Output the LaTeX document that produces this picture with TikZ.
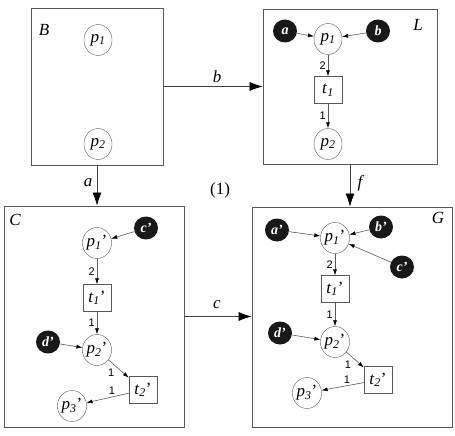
\documentclass[tikz,border=0pt]{standalone}
\usepackage{fontspec}
\setmainfont{Liberation Serif}
\setsansfont{Liberation Sans}
\usetikzlibrary{arrows.meta,shapes.geometric}

\newcommand{\pl}[2]{\textit{#1}\textsubscript{\textit{#2}}}

\tikzset{
  netbox/.style={draw=black!65, line width=0.8pt, rectangle, inner sep=0pt},
  boxlabel/.style={font=\fontsize{17}{17}\selectfont\itshape},
  place/.style={draw=black!65, ellipse, minimum width=28pt, minimum height=31pt, inner sep=0pt, font=\fontsize{17}{17}\selectfont},
  token/.style={fill=black!90, ellipse, minimum width=24pt, minimum height=23pt, inner sep=0pt, text=white, font=\fontsize{14}{14}\selectfont\bfseries\itshape},
  trans/.style={draw=black!65, rectangle, minimum width=28pt, minimum height=27pt, inner sep=0pt, font=\fontsize{17}{17}\selectfont},
  arc/.style={draw=black!65, line width=0.6pt, -{Latex[length=6pt,width=4pt,black]}},
  weight/.style={font=\fontsize{11}{11}\selectfont\sffamily, inner sep=2pt},
  morph/.style={draw=black!75, line width=0.7pt, -{Latex[length=13pt,width=9pt,black]}},
  morphlabel/.style={font=\fontsize{17}{17}\selectfont\itshape}
}

\begin{document}
\begin{tikzpicture}[x=1pt,y=-1pt]
   \useasboundingbox (0,0) rectangle (455,436);

   %% Netze
   \node[netbox, minimum width=132pt, minimum height=157pt] (B) at (97,86.5) {};
   \node[netbox, minimum width=174pt, minimum height=155pt] (L) at (350,86.5) {};
   \node[netbox, minimum width=180pt, minimum height=221pt] (C) at (94,316.5) {};
   \node[netbox, minimum width=200pt, minimum height=220pt] (G) at (352,317) {};
   \node[boxlabel] (Blab) at (44,30) {B};
   \node[boxlabel] (Llab) at (418,25) {L};
   \node[boxlabel] (Clab) at (15,220) {C};
   \node[boxlabel] (Glab) at (438,218) {G};

   %% Morphismen
   \draw[morph] (B.east) -- (L.west);
   \draw[morph] (B.south) -- (B.south |- C.north);
   \draw[morph] (L.south) -- (L.south |- G.north);
   \draw[morph] (C.east) -- (C.east -| G.west);
   \node[morphlabel] (blab) at (217,77) {b};
   \node[morphlabel] (alab) at (88,183) {a};
   \node[morphlabel] (flab) at (360,183) {f};
   \node[morphlabel] (clab) at (217,305) {c};
   \node[font=\fontsize{17}{17}\selectfont] (one) at (220,190) {(1)};

   %% B
   \node[place] (Bp1) at (98,40) {\pl{p}{1}};
   \node[place] (Bp2) at (98,144) {\pl{p}{2}};

   %% L
   \node[token] (La) at (285,31) {a};
   \node[token] (Lb) at (378,31) {b};
   \node[place] (Lp1) at (328,39) {\pl{p}{1}};
   \node[trans] (Lt1) at (328,90) {\pl{t}{1}};
   \node[place] (Lp2) at (328,144) {\pl{p}{2}};
   \draw[arc] (La) -- (Lp1);
   \draw[arc] (Lb) -- (Lp1);
   \draw[arc] (Lp1) -- node[weight, left] {2} (Lt1);
   \draw[arc] (Lt1) -- node[weight, left] {1} (Lp2);

   %% C
   \node[token] (Cc) at (146,228) {c’};
   \node[token] (Cd) at (48,342) {d’};
   \node[place] (Cp1) at (97,243) {\pl{p}{1}'};
   \node[trans] (Ct1) at (97,298) {\pl{t}{1}'};
   \node[place] (Cp2) at (97,350) {\pl{p}{2}'};
   \node[trans] (Ct2) at (143,390) {\pl{t}{2}'};
   \node[place] (Cp3) at (72,406) {\pl{p}{3}'};
   \draw[arc] (Cc) -- (Cp1);
   \draw[arc] (Cd) -- (Cp2);
   \draw[arc] (Cp1) -- node[weight, left] {2} (Ct1);
   \draw[arc] (Ct1) -- node[weight, left] {1} (Cp2);
   \draw[arc] (Cp2) -- node[weight, below left, pos=0.4] {1} (Ct2);
   \draw[arc] (Ct2) -- node[weight, above, pos=0.4] {1} (Cp3);

   %% G
   \node[token] (Ga) at (277,230) {a’};
   \node[token] (Gb) at (381,227) {b’};
   \node[token] (Gc) at (402,267) {c’};
   \node[token] (Gd) at (280,333) {d’};
   \node[place] (Gp1) at (335,238) {\pl{p}{1}'};
   \node[trans] (Gt1) at (335,289) {\pl{t}{1}'};
   \node[place] (Gp2) at (335,342) {\pl{p}{2}'};
   \node[trans] (Gt2) at (378,380) {\pl{t}{2}'};
   \node[place] (Gp3) at (307,393) {\pl{p}{3}'};
   \draw[arc] (Ga) -- (Gp1);
   \draw[arc] (Gb) -- (Gp1);
   \draw[arc] (Gc) -- (Gp1);
   \draw[arc] (Gd) -- (Gp2);
   \draw[arc] (Gp1) -- node[weight, left] {2} (Gt1);
   \draw[arc] (Gt1) -- node[weight, left] {1} (Gp2);
   \draw[arc] (Gp2) -- node[weight, below left, pos=0.4] {1} (Gt2);
   \draw[arc] (Gt2) -- node[weight, above, pos=0.4] {1} (Gp3);
\end{tikzpicture}
\end{document}
